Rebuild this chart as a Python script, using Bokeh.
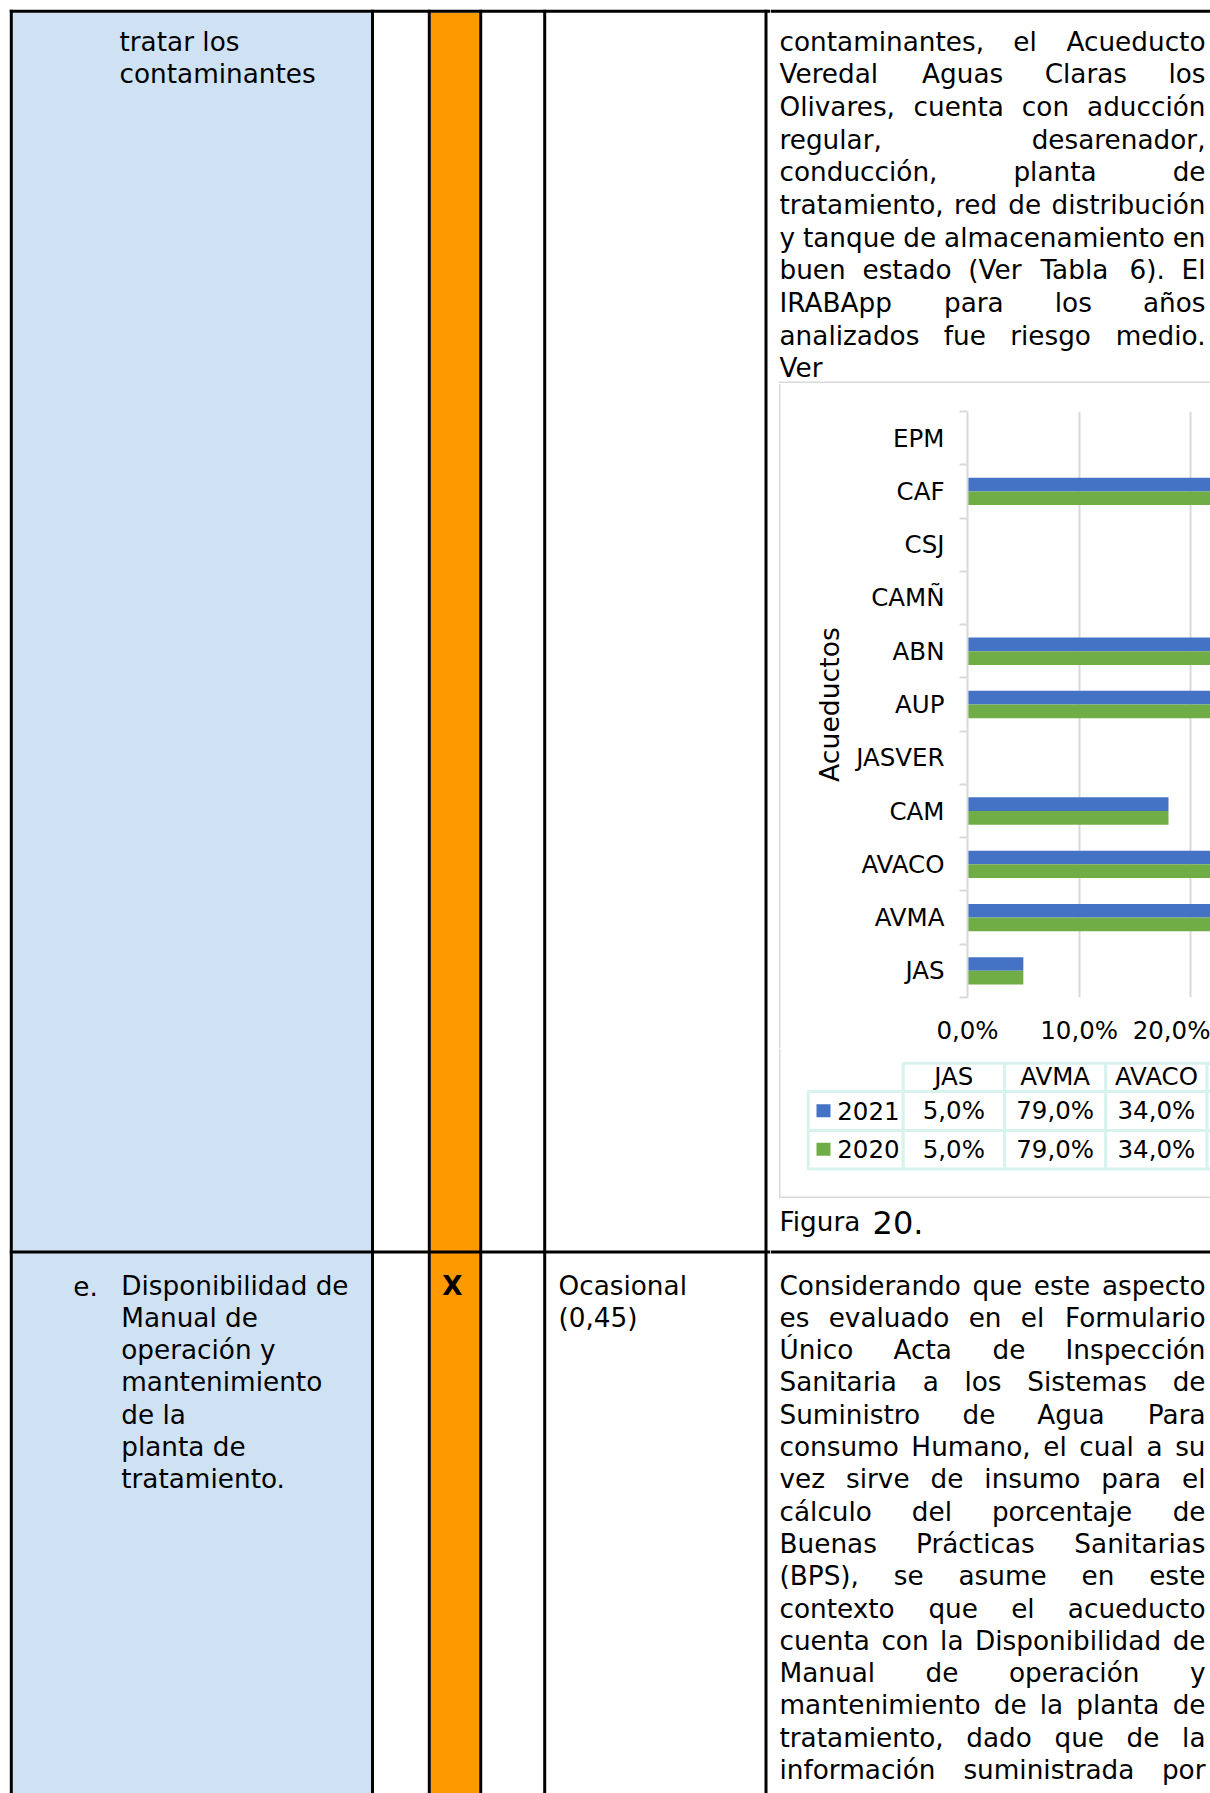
import unicodedata
from bokeh.plotting import figure
from bokeh.models import Range1d, FixedTicker, ColumnDataSource, LinearAxis, Grid
from bokeh.layouts import row, column
from bokeh.embed import file_html
from bokeh.resources import INLINE
from bokeh.core.properties import value

# ---------------- chart data ----------------
acueductos = ["JAS", "AVMA", "AVACO", "CAM", "JASVER", "AUP", "ABN", "CAMÑ", "CSJ", "CAF", "EPM"]
irabapp_2021 = [5.0, 79.0, 34.0, 18.0, 0.0, 45.0, 55.0, 0.0, 0.0, 60.0, 0.0]
irabapp_2020 = [5.0, 79.0, 34.0, 18.0, 0.0, 45.0, 55.0, 0.0, 0.0, 60.0, 0.0]
series_labels = ["2021", "2020"]
series_colors = ["#4472C4", "#70AD47"]
pct_ticks = [0, 10, 20, 30, 40, 50, 60, 70, 80, 90]
pct_tick_labels = ["0,0%", "10,0%", "20,0%", "30,0%", "40,0%", "50,0%", "60,0%", "70,0%", "80,0%", "90,0%"]
category_axis_title = "Acueductos"

# ---------------- document text ----------------
left_top_lines = ["tratar los", "contaminantes"]
item_marker = "e."
left_bottom_lines = ["Disponibilidad de", "Manual de", "operación y", "mantenimiento",
                     "de la", "planta de", "tratamiento."]
mark_text = "X"
freq_lines = ["Ocasional", "(0,45)"]
para_top = [
    "contaminantes, el Acueducto",
    "Veredal Aguas Claras los",
    "Olivares, cuenta con aducción",
    "regular, desarenador,",
    "conducción, planta de",
    "tratamiento, red de distribución",
    "y tanque de almacenamiento en",
    "buen estado (Ver Tabla 6). El",
    "IRABApp para los años",
    "analizados fue riesgo medio.",
    "Ver",
]
para_bottom = [
    "Considerando que este aspecto",
    "es evaluado en el Formulario",
    "Único Acta de Inspección",
    "Sanitaria a los Sistemas de",
    "Suministro de Agua Para",
    "consumo Humano, el cual a su",
    "vez sirve de insumo para el",
    "cálculo del porcentaje de",
    "Buenas Prácticas Sanitarias",
    "(BPS), se asume en este",
    "contexto que el acueducto",
    "cuenta con la Disponibilidad de",
    "Manual de operación y",
    "mantenimiento de la planta de",
    "tratamiento, dado que de la",
    "información suministrada por",
]
caption_word = "Figura "
caption_num = "20."

# ---------------- styling ----------------
FONT_NAME = "DejaVu Sans"
FONT = value(FONT_NAME)
DOC_SIZE = 26.3
CHART_SIZE = 24.5
TEXT_DY = 9.0          # baseline correction for text glyphs
BLUE_CELL = "#cfe2f3"
ORANGE_CELL = "#ff9900"
GRAY = "#d9d9d9"
TABLE_LINE = "#d6f3ee"
PAGE_W, PAGE_H = 1210, 1793

DV = {' ': 651, '!': 821, '%': 1946, '(': 799, ')': 799, ',': 651, '-': 739, '.': 651, ':': 690,
      'A': 1401, 'B': 1405, 'C': 1430, 'D': 1577, 'E': 1294, 'F': 1178, 'G': 1587, 'H': 1540,
      'I': 604, 'J': 604, 'K': 1343, 'L': 1141, 'M': 1767, 'N': 1532, 'O': 1612, 'P': 1235,
      'Q': 1612, 'R': 1423, 'S': 1300, 'T': 1251, 'U': 1499, 'V': 1401, 'W': 2025, 'X': 1403,
      'Y': 1251, 'Z': 1403, 'a': 1255, 'b': 1300, 'c': 1126, 'd': 1300, 'e': 1260, 'f': 721,
      'g': 1300, 'h': 1298, 'i': 569, 'j': 569, 'k': 1186, 'l': 569, 'm': 1995, 'n': 1298,
      'o': 1253, 'p': 1300, 'q': 1300, 'r': 842, 's': 1067, 't': 803, 'u': 1298, 'v': 1212,
      'w': 1675, 'x': 1212, 'y': 1212, 'z': 1075}
for d in "0123456789":
    DV[d] = 1303


def text_w(s, size):
    tot = 0
    for ch in s:
        b = unicodedata.normalize("NFD", ch)[0]
        tot += DV.get(b, 1250)
    return tot / 2048.0 * size


def no_align(p):
    try:
        p.frame_align = False
    except Exception:
        pass


def tile(x0, x1, y0, y1):
    p = figure(width=int(x1 - x0), height=int(y1 - y0),
               x_range=Range1d(x0, x1), y_range=Range1d(y1, y0),
               output_backend="svg", toolbar_location=None, min_border=0,
               x_axis_type=None, y_axis_type=None, outline_line_color=None)
    p.background_fill_color = "white"
    p.border_fill_color = "white"
    no_align(p)
    return p


def box(p, l, r, t, b, color):
    p.quad(left=[l], right=[r], top=[t], bottom=[b], fill_color=color, line_color=None)


def put_text(p, xs, ys, texts, size=DOC_SIZE, align="left", style="normal", color="black"):
    p.text(x=xs, y=[y - TEXT_DY for y in ys], text=texts, text_font=FONT, text_font_size=f"{size}px",
           text_font_style=style, text_align=align, text_baseline="alphabetic", text_color=color)


def justified(p, lines, y0, dy, xl, xr, size, justify_last=True):
    xs, ys, ts, al = [], [], [], []
    for k, line in enumerate(lines):
        y = y0 + k * dy - TEXT_DY
        words = line.split()
        is_last = (k == len(lines) - 1) and not justify_last
        if len(words) == 1 or is_last:
            xs.append(xl); ys.append(y); ts.append(line); al.append("left")
            continue
        W = sum(text_w(w, size) for w in words)
        gap = (xr - xl - W) / (len(words) - 1)
        x = xl
        for i, w in enumerate(words):
            if i == len(words) - 1:
                xs.append(xr); al.append("right")
            else:
                xs.append(x); al.append("left")
            ys.append(y); ts.append(w)
            x += text_w(w, size) + gap
    src = ColumnDataSource(dict(x=xs, y=ys, text=ts, align=al))
    p.text(x="x", y="y", text="text", text_align="align", source=src, text_font=FONT,
           text_font_size=f"{size}px", text_baseline="alphabetic", text_color="black")


# ---------------- left part of the table ----------------
left = tile(0, 770, 0, PAGE_H)
box(left, 12.3, 370.7, 12.3, PAGE_H, BLUE_CELL)
box(left, 430.2, 478.8, 12.3, PAGE_H, ORANGE_CELL)
for xc in [10.8, 372.0, 428.8, 480.2, 544.2, 765.5]:
    box(left, xc - 1.5, xc + 1.5, 9.3, PAGE_H, "black")
box(left, 9.3, 770, 9.3, 12.3, "black")
box(left, 9.3, 770, 1250.0, 1253.0, "black")

put_text(left, [119.0, 119.0], [50.0, 82.7], left_top_lines)
put_text(left, [72.7], [1294.0], [item_marker])
put_text(left, [120.7] * len(left_bottom_lines), [1294.0 + 32.3 * k for k in range(len(left_bottom_lines))],
         left_bottom_lines)
put_text(left, [452.0], [1294.0], [mark_text], align="center", style="bold")
put_text(left, [558.0, 558.0], [1294.0, 1326.3], freq_lines)

# ---------------- right column, top text ----------------
XL, XR = 779.0, 1205.0
top = tile(770, PAGE_W, 0, 383)
box(top, 770, PAGE_W, 9.3, 12.3, "black")
box(top, 778.5, PAGE_W, 381.0, 382.6, GRAY)
box(top, 778.5, 780.0, 381.0, 383.0, GRAY)
justified(top, para_top, 50.0, 32.67, XL, XR, DOC_SIZE, justify_last=False)

# ---------------- chart ----------------
edge = tile(770, 781, 383, 1048)
box(edge, 778.5, 780.0, 383, 1048, GRAY)

PX_PER_PCT = 11.167
CHART_W, CHART_H = PAGE_W - 781, 665
MB_LEFT, MB_TOP, MB_BOTTOM = 186, 28, 51
n = len(acueductos)
chart = figure(width=CHART_W, height=CHART_H,
               x_range=Range1d(0, (CHART_W - MB_LEFT) / PX_PER_PCT), y_range=Range1d(0, n),
               output_backend="svg", toolbar_location=None,
               min_border_left=MB_LEFT, min_border_top=MB_TOP, min_border_bottom=MB_BOTTOM,
               min_border_right=0, x_axis_type=None, y_axis_type=None, outline_line_color=None)
chart.background_fill_color = "white"
chart.border_fill_color = "white"
no_align(chart)

centers = [i + 0.5 for i in range(n)]
bounds = [float(i) for i in range(n + 1)]
bar_h = 0.257
src = ColumnDataSource(dict(
    y21=[c + bar_h / 2 for c in centers], y20=[c - bar_h / 2 for c in centers],
    v21=irabapp_2021, v20=irabapp_2020))

chart.add_layout(Grid(dimension=0, ticker=FixedTicker(ticks=pct_ticks),
                      grid_line_color=GRAY, grid_line_width=2))
chart.hbar(y="y21", left=0, right="v21", height=bar_h, source=src,
           fill_color=series_colors[0], line_color=None)
chart.hbar(y="y20", left=0, right="v20", height=bar_h, source=src,
           fill_color=series_colors[1], line_color=None)

yaxis = LinearAxis(ticker=FixedTicker(ticks=centers, minor_ticks=bounds),
                   major_label_overrides={c: name for c, name in zip(centers, acueductos)},
                   axis_label=category_axis_title)
yaxis.axis_line_color = GRAY
yaxis.axis_line_width = 2
yaxis.major_tick_line_color = None
yaxis.major_tick_out = 0
yaxis.major_tick_in = 0
yaxis.minor_tick_line_color = GRAY
yaxis.minor_tick_line_width = 2
yaxis.minor_tick_out = 8
yaxis.minor_tick_in = 0
yaxis.major_label_standoff = 15
yaxis.major_label_text_font = FONT_NAME
yaxis.major_label_text_font_size = f"{CHART_SIZE}px"
yaxis.major_label_text_color = "black"
yaxis.axis_label_text_font = FONT_NAME
yaxis.axis_label_text_font_size = "26.67px"
yaxis.axis_label_text_font_style = "normal"
yaxis.axis_label_text_color = "black"
yaxis.axis_label_standoff = 8
chart.add_layout(yaxis, "left")

xaxis = LinearAxis(ticker=FixedTicker(ticks=pct_ticks),
                   major_label_overrides={t: lab for t, lab in zip(pct_ticks, pct_tick_labels)})
xaxis.axis_line_color = None
xaxis.major_tick_line_color = None
xaxis.minor_tick_line_color = None
xaxis.major_tick_out = 0
xaxis.major_tick_in = 0
xaxis.major_label_standoff = 18
xaxis.major_label_text_font = FONT_NAME
xaxis.major_label_text_font_size = f"{CHART_SIZE}px"
xaxis.major_label_text_color = "black"
chart.add_layout(xaxis, "below")

# ---------------- right column, bottom ----------------
bot = tile(770, PAGE_W, 1048, PAGE_H)
box(bot, 778.5, 780.0, 1048, 1197.5, GRAY)
box(bot, 778.5, PAGE_W, 1196.0, 1197.5, GRAY)
box(bot, 770, PAGE_W, 1250.0, 1253.0, "black")

# chart data table (only the columns that reach into the page are drawn)
COL0, COLW = 902.7, 101.3
HDR_T, HDR_B = 1062.7, 1091.0
ROWS = [(1091.0, 1130.0), (1130.0, 1168.5)]
col_l_all = [COL0 + i * COLW for i in range(n)]
vis = [i for i in range(n) if col_l_all[i] < PAGE_W]
col_l = [col_l_all[i] for i in vis]
txt_cols = [i for i in vis if col_l_all[i] + COLW <= PAGE_W + 10]
bot.quad(left=col_l, right=[c + COLW for c in col_l], top=[HDR_T] * len(col_l), bottom=[HDR_B] * len(col_l),
         fill_color="white", line_color=TABLE_LINE, line_width=3)
for (rt, rb) in ROWS:
    bot.quad(left=[807.7] + col_l, right=[902.7] + [c + COLW for c in col_l],
             top=[rt] * (len(col_l) + 1), bottom=[rb] * (len(col_l) + 1),
             fill_color="white", line_color=TABLE_LINE, line_width=3)
put_text(bot, [col_l_all[i] + COLW / 2 for i in txt_cols], [1085.0] * len(txt_cols),
         [acueductos[i] for i in txt_cols], size=CHART_SIZE, align="center")


def fmt(v):
    return f"{v:.1f}".replace(".", ",") + "%"


for (rt, rb), lab, color, vals in zip(ROWS, series_labels, series_colors, [irabapp_2021, irabapp_2020]):
    base = rb - 10.8
    box(bot, 816, 830, base - 15.5, base - 2.5, color)
    put_text(bot, [836.7], [base], [lab], size=CHART_SIZE)
    put_text(bot, [col_l_all[i] + COLW / 2 for i in txt_cols], [base] * len(txt_cols),
             [fmt(vals[i]) for i in txt_cols], size=CHART_SIZE, align="center")

put_text(bot, [XL], [1230.7], [caption_word])
put_text(bot, [XL + text_w(caption_word, DOC_SIZE) + 2], [1230.7], [caption_num], size=32)

justified(bot, para_bottom, 1294.0, 32.3, XL, XR, DOC_SIZE)

layout = row(left, column(top, row(edge, chart), bot))
open("out.html", "w").write(file_html(layout, INLINE))
